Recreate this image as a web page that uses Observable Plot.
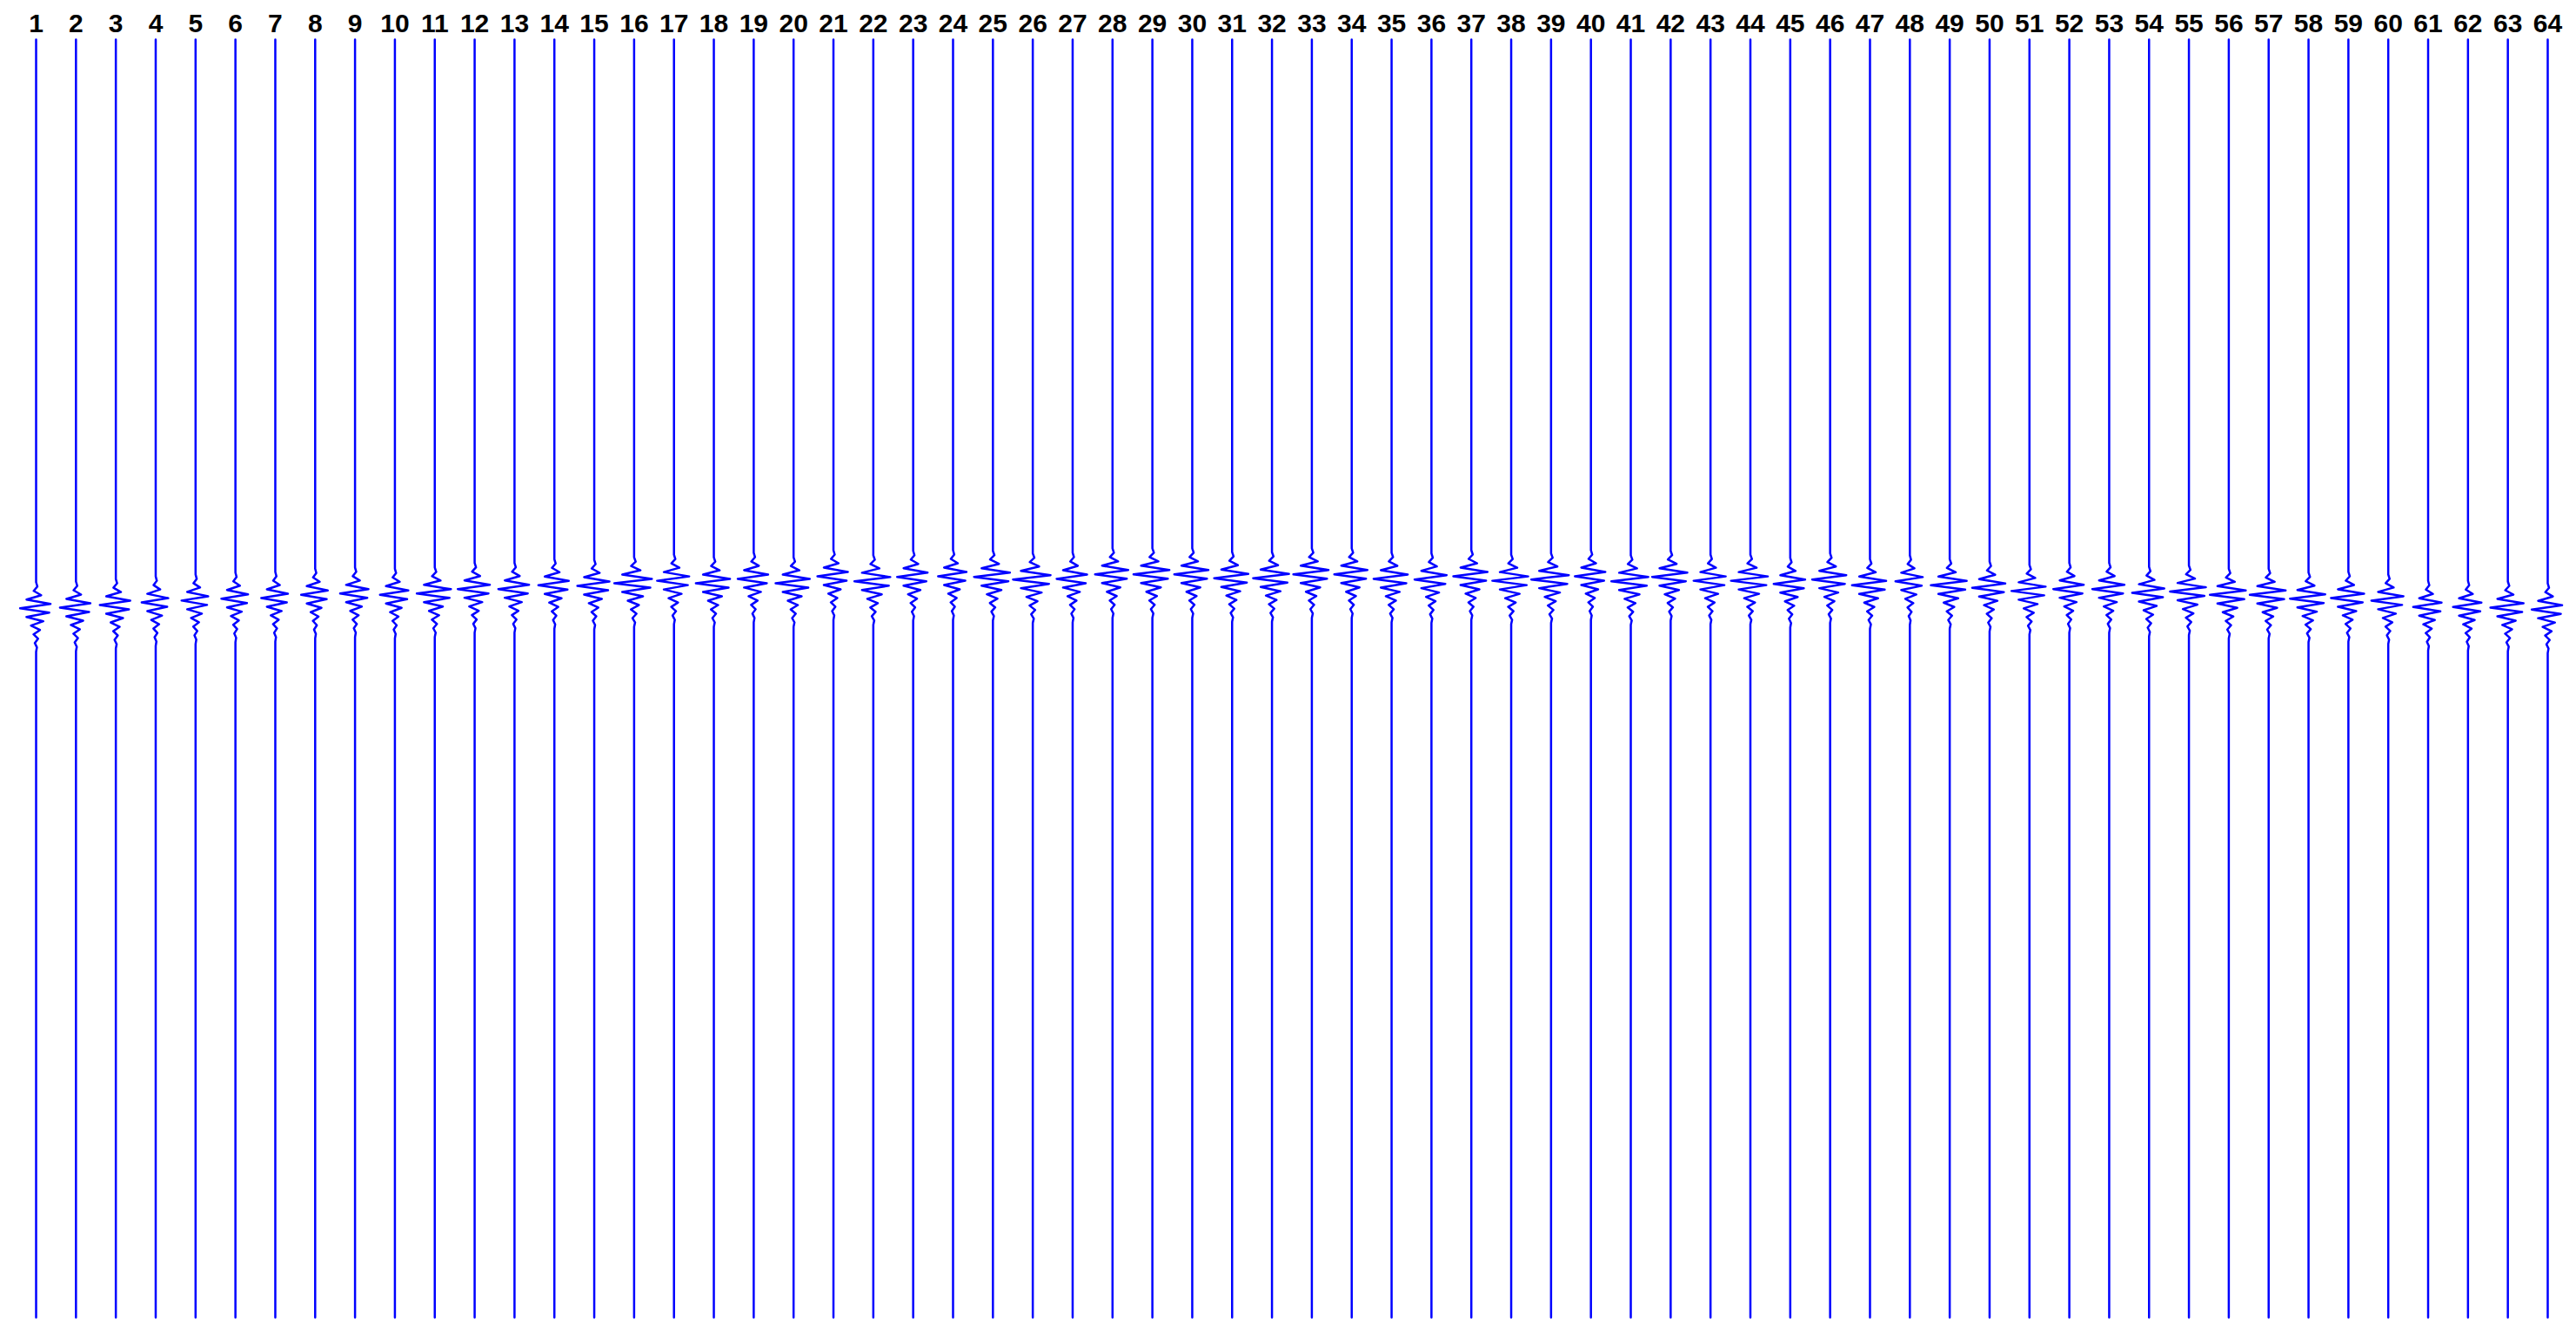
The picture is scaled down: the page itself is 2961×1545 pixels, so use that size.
<!DOCTYPE html>
<html><head><meta charset="utf-8">
<script src="https://cdn.jsdelivr.net/npm/d3@7"></script>
<script src="https://cdn.jsdelivr.net/npm/@observablehq/plot@0.6"></script>
<style>body{margin:0;background:#fff}</style>
</head><body><div id="chart"></div>
<script>
// Trace numbers (tick labels)
const traces = [1,2,3,4,5,6,7,8,9,10,11,12,13,14,15,16,17,18,19,20,21,22,23,24,25,26,27,28,29,30,31,32,
  33,34,35,36,37,38,39,40,41,42,43,44,45,46,47,48,49,50,51,52,53,54,55,56,57,58,59,60,61,62,63,64];
// Arrival time (s) of the strongest wavelet swing on each trace
const arrivals = [0.890,0.889,0.885,0.881,0.878,0.875,0.874,0.869,0.867,0.869,0.867,0.860,0.860,0.854,0.855,0.851,
  0.847,0.851,0.844,0.851,0.840,0.848,0.841,0.840,0.841,0.845,0.844,0.837,0.837,0.837,0.843,0.843,
  0.837,0.837,0.844,0.845,0.840,0.847,0.845,0.840,0.848,0.841,0.847,0.847,0.852,0.845,0.854,0.848,
  0.854,0.858,0.863,0.860,0.860,0.866,0.864,0.869,0.869,0.875,0.874,0.878,0.888,0.888,0.889,0.892];
// Relative amplitude of each trace
const gains = [0.89,0.89,0.89,0.78,0.78,0.78,0.78,0.78,0.83,0.83,1.00,0.94,0.90,0.89,0.94,1.10,
  0.94,1.00,0.89,1.00,0.89,1.05,0.89,0.83,1.05,1.10,0.89,0.97,1.05,1.00,1.00,1.05,
  1.03,0.97,1.00,0.94,1.00,1.05,1.10,0.89,1.08,1.03,0.94,1.08,0.92,1.00,1.00,0.80,
  1.05,0.97,1.00,0.89,0.94,0.94,1.05,1.05,1.05,1.03,0.97,0.94,0.83,0.83,0.97,0.89];
// Wavelet: lag (ms) relative to the strongest swing, and normalised amplitude
const waveletLagMs = [-34,-27.2,-20.4,-13.6,-6.8,0,6.8,13.6,20.4,27.2,34,40.8,47.6,54.4,61.2];
const waveletAmp   = [0.08,-0.15,0.32,-0.6,0.9,-1.0,0.82,-0.6,0.45,-0.32,0.24,-0.16,0.12,-0.08,0.05];
const recordLength = 2.0;   // s
const ampScale = 0.45;      // trace spacings per unit amplitude

const rows = [];
traces.forEach((tr, i) => {
  rows.push({trace: tr, t: 0, a: 0});
  rows.push({trace: tr, t: arrivals[i] + (waveletLagMs[0] - 6.8) / 1000, a: 0});
  waveletLagMs.forEach((lag, k) => rows.push({trace: tr, t: arrivals[i] + lag / 1000, a: gains[i] * waveletAmp[k]}));
  rows.push({trace: tr, t: arrivals[i] + (waveletLagMs[waveletLagMs.length - 1] + 6.8) / 1000, a: 0});
  rows.push({trace: tr, t: recordLength, a: 0});
});

const chart = Plot.plot({
  width: 2961,
  height: 1545,
  marginLeft: 41,
  marginRight: 33,
  marginTop: 45,
  marginBottom: 31,
  style: {background: "#fff", fontFamily: "'Liberation Sans', Arial, sans-serif"},
  x: {domain: [1, 64], axis: null},
  y: {domain: [0, recordLength], reverse: true, axis: null},
  marks: [
    Plot.axisX({anchor: "top", ticks: traces, tickSize: 0, tickPadding: 9, tickFormat: d => String(d),
      fontSize: 30, fontWeight: "bold", fill: "#000"}),
    Plot.line(rows, {x: d => d.trace + ampScale * d.a, y: "t", z: "trace", stroke: "#0000ff", strokeWidth: 2.5, curve: "linear"})
  ]
});
document.getElementById("chart").appendChild(chart);
</script>
</body></html>
